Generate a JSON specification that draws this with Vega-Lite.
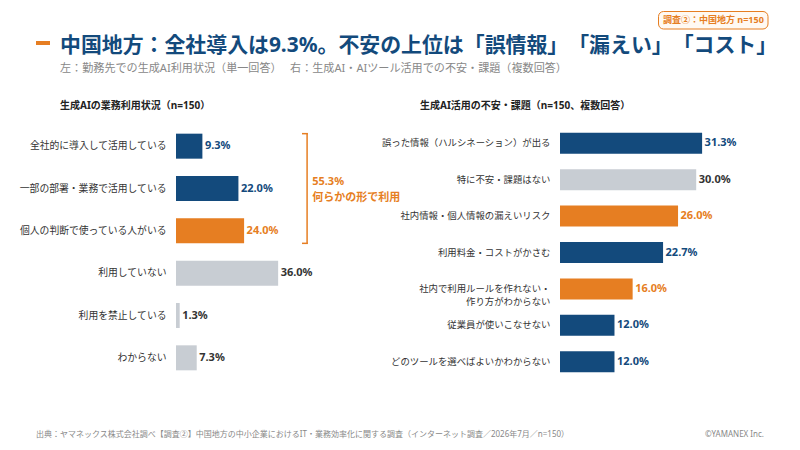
{
  "$schema": "https://vega.github.io/schema/vega-lite/v6.json",
  "padding": 0,
  "background": "#ffffff",
  "spacing": 0,
  "config": {
    "view": {"stroke": null},
    "font": "Noto Sans, Noto Sans CJK JP",
    "concat": {"spacing": 0},
    "title": {"font": "Noto Sans, Noto Sans CJK JP"}
  },
  "vconcat": [
    {
      "width": 624,
      "height": 100.5,
      "layer": [
        {
          "data": {"values": [{"part": "accent"}]},
          "mark": {"type": "rule", "color": "#E67E22", "strokeWidth": 4},
          "encoding": {
            "x": {"datum": 36, "type": "quantitative", "scale": {"domain": [176, 800], "nice": false}, "axis": null},
            "x2": {"datum": 50},
            "y": {"datum": 43, "type": "quantitative", "scale": {"domain": [100.5, 0], "nice": false}, "axis": null}
          }
        },
        {
          "data": {"values": [{"part": "badge"}]},
          "mark": {"type": "rect", "fill": "#FFF9F2", "stroke": "#E67E22", "strokeWidth": 1, "cornerRadius": 5},
          "encoding": {
            "x": {"datum": 658.5, "type": "quantitative"},
            "x2": {"datum": 768},
            "y": {"datum": 11.5, "type": "quantitative"},
            "y2": {"datum": 29}
          }
        },
        {
          "data": {"values": [{"text": "調査②：中国地方 n=150"}]},
          "mark": {"type": "text", "align": "left", "baseline": "middle", "fontSize": 9, "fontWeight": "bold", "color": "#E67E22"},
          "encoding": {
            "x": {"datum": 663, "type": "quantitative"},
            "y": {"datum": 20, "type": "quantitative"},
            "text": {"field": "text"}
          }
        },
        {
          "data": {"values": [{"text": "中国地方：全社導入は9.3%。不安の上位は「誤情報」\u200b「漏えい」\u200b「コスト」"}]},
          "mark": {"type": "text", "align": "left", "baseline": "middle", "fontSize": 20.9, "fontWeight": "bold", "color": "#134A7C"},
          "encoding": {
            "x": {"datum": 60, "type": "quantitative"},
            "y": {"datum": 46, "type": "quantitative"},
            "text": {"field": "text"}
          }
        },
        {
          "data": {"values": [{"text": "左：勤務先での生成AI利用状況（単一回答）　 右：生成AI・AIツール活用での不安・課題（複数回答）"}]},
          "mark": {"type": "text", "align": "left", "baseline": "middle", "fontSize": 11.1, "color": "#888888"},
          "encoding": {
            "x": {"datum": 60, "type": "quantitative"},
            "y": {"datum": 69, "type": "quantitative"},
            "text": {"field": "text"}
          }
        }
      ]
    },
    {
      "spacing": 157,
      "bounds": "flush",
      "hconcat": [
        {
          "width": 227,
          "height": 254,
          "title": {"text": "生成AIの業務利用状況（n=150）", "anchor": "start", "frame": "group", "dx": -116, "fontSize": 10, "fontWeight": "bold", "color": "#222222", "offset": 14},
          "layer": [
            {
              "data": {"name": "left"},
              "mark": {"type": "bar", "size": 25},
              "encoding": {
                "y": {
                  "field": "item", "type": "nominal", "sort": null,
                  "scale": {"paddingInner": 0.41, "paddingOuter": 0.205},
                  "axis": {"title": null, "domain": false, "ticks": false, "labelPadding": 10, "labelFontSize": 9.8, "labelColor": "#333333", "labelFont": "Noto Sans, Noto Sans CJK JP", "minExtent": 176, "maxExtent": 176, "labelLimit": 300}
                },
                "x": {"field": "share", "type": "quantitative", "scale": {"domain": [0, 0.8], "nice": false}, "axis": null},
                "color": {
                  "field": "kind", "type": "nominal",
                  "scale": {"domain": ["導入", "個人", "なし"], "range": ["#134A7C", "#E67E22", "#C8CDD3"]},
                  "legend": null
                }
              }
            },
            {
              "data": {"name": "left"},
              "mark": {"type": "text", "align": "left", "baseline": "middle", "dx": 2.5, "fontSize": 11, "fontWeight": "bold"},
              "encoding": {
                "y": {"field": "item", "type": "nominal", "sort": null},
                "x": {"field": "share", "type": "quantitative"},
                "text": {"field": "share", "type": "quantitative", "format": ".1%"},
                "color": {
                  "condition": {"test": "datum.kind === 'なし'", "value": "#333333"},
                  "field": "kind", "type": "nominal", "legend": null
                }
              }
            },
            {
              "data": {"values": [{"from": "全社的に導入して活用している", "to": "個人の判断で使っている人がいる"}]},
              "mark": {"type": "rule", "color": "#E67E22", "strokeWidth": 1.5, "yOffset": -12.5, "y2Offset": 12.5},
              "encoding": {
                "x": {"datum": 0.462, "type": "quantitative"},
                "y": {"field": "from", "type": "nominal", "sort": null},
                "y2": {"field": "to"}
              }
            },
            {
              "data": {"values": [{"end": "全社的に導入して活用している"}]},
              "mark": {"type": "rule", "color": "#E67E22", "strokeWidth": 1.5, "yOffset": -12.5},
              "encoding": {
                "x": {"datum": 0.444, "type": "quantitative"},
                "x2": {"datum": 0.465},
                "y": {"field": "end", "type": "nominal", "sort": null}
              }
            },
            {
              "data": {"values": [{"end": "個人の判断で使っている人がいる"}]},
              "mark": {"type": "rule", "color": "#E67E22", "strokeWidth": 1.5, "yOffset": 12.5},
              "encoding": {
                "x": {"datum": 0.444, "type": "quantitative"},
                "x2": {"datum": 0.465},
                "y": {"field": "end", "type": "nominal", "sort": null}
              }
            },
            {
              "data": {"values": [{"note": "55.3%\n何らかの形で利用", "beside": "一部の部署・業務で活用している"}]},
              "mark": {"type": "text", "align": "left", "baseline": "middle", "dy": -7, "fontSize": 11, "fontWeight": "bold", "color": "#E67E22", "lineBreak": "\n", "lineHeight": 16},
              "encoding": {
                "x": {"datum": 0.48, "type": "quantitative"},
                "y": {"field": "beside", "type": "nominal", "sort": null},
                "text": {"field": "note"}
              }
            }
          ]
        },
        {
          "width": 240,
          "height": 255,
          "title": {"text": "生成AI活用の不安・課題（n=150、複数回答）", "anchor": "start", "frame": "group", "dx": -140, "fontSize": 10, "fontWeight": "bold", "color": "#222222", "offset": 14},
          "layer": [
            {
              "data": {"name": "right"},
              "mark": {"type": "bar", "size": 21},
              "encoding": {
                "y": {
                  "field": "item", "type": "nominal", "sort": null,
                  "scale": {"paddingInner": 0.425, "paddingOuter": 0.212},
                  "axis": {"title": null, "domain": false, "ticks": false, "labelPadding": 10, "labelFontSize": 9.4, "labelColor": "#333333", "labelFont": "Noto Sans, Noto Sans CJK JP", "labelLimit": 300, "labelLineHeight": 13, "labelExpr": "split(datum.label, '|')"}
                },
                "x": {"field": "share", "type": "quantitative", "scale": {"domain": [0, 0.5286], "nice": false}, "axis": null},
                "color": {
                  "field": "kind", "type": "nominal",
                  "scale": {"domain": ["主", "漏えい", "なし"], "range": ["#134A7C", "#E67E22", "#C8CDD3"]},
                  "legend": null
                }
              }
            },
            {
              "data": {"name": "right"},
              "mark": {"type": "text", "align": "left", "baseline": "middle", "dx": 2.5, "fontSize": 11, "fontWeight": "bold"},
              "encoding": {
                "y": {"field": "item", "type": "nominal", "sort": null},
                "x": {"field": "share", "type": "quantitative"},
                "text": {"field": "share", "type": "quantitative", "format": ".1%"},
                "color": {
                  "condition": {"test": "datum.kind === 'なし'", "value": "#333333"},
                  "field": "kind", "type": "nominal", "legend": null
                }
              }
            }
          ]
        }
      ]
    },
    {
      "width": 624,
      "height": 71,
      "layer": [
        {
          "data": {"values": [{"text": "出典：ヤマネックス株式会社調べ【調査②】中国地方の中小企業におけるIT・業務効率化に関する調査（インターネット調査／2026年7月／n=150）"}]},
          "mark": {"type": "text", "align": "left", "baseline": "middle", "fontSize": 8, "color": "#888888"},
          "encoding": {
            "x": {"datum": 36, "type": "quantitative", "scale": {"domain": [176, 800], "nice": false}, "axis": null},
            "y": {"datum": 55, "type": "quantitative", "scale": {"domain": [71, 0], "nice": false}, "axis": null},
            "text": {"field": "text"}
          }
        },
        {
          "data": {"values": [{"text": "©YAMANEX Inc."}]},
          "mark": {"type": "text", "align": "right", "baseline": "middle", "fontSize": 8, "color": "#888888"},
          "encoding": {
            "x": {"datum": 764, "type": "quantitative"},
            "y": {"datum": 55, "type": "quantitative"},
            "text": {"field": "text"}
          }
        }
      ]
    }
  ],
  "datasets": {
    "left": [
      {"item": "全社的に導入して活用している", "share": 0.093, "kind": "導入"},
      {"item": "一部の部署・業務で活用している", "share": 0.22, "kind": "導入"},
      {"item": "個人の判断で使っている人がいる", "share": 0.24, "kind": "個人"},
      {"item": "利用していない", "share": 0.36, "kind": "なし"},
      {"item": "利用を禁止している", "share": 0.013, "kind": "なし"},
      {"item": "わからない", "share": 0.073, "kind": "なし"}
    ],
    "right": [
      {"item": "誤った情報（ハルシネーション）が出る", "share": 0.313, "kind": "主"},
      {"item": "特に不安・課題はない", "share": 0.30, "kind": "なし"},
      {"item": "社内情報・個人情報の漏えいリスク", "share": 0.26, "kind": "漏えい"},
      {"item": "利用料金・コストがかさむ", "share": 0.227, "kind": "主"},
      {"item": "社内で利用ルールを作れない・|作り方がわからない", "share": 0.16, "kind": "漏えい"},
      {"item": "従業員が使いこなせない", "share": 0.12, "kind": "主"},
      {"item": "どのツールを選べばよいかわからない", "share": 0.12, "kind": "主"}
    ]
  }
}
